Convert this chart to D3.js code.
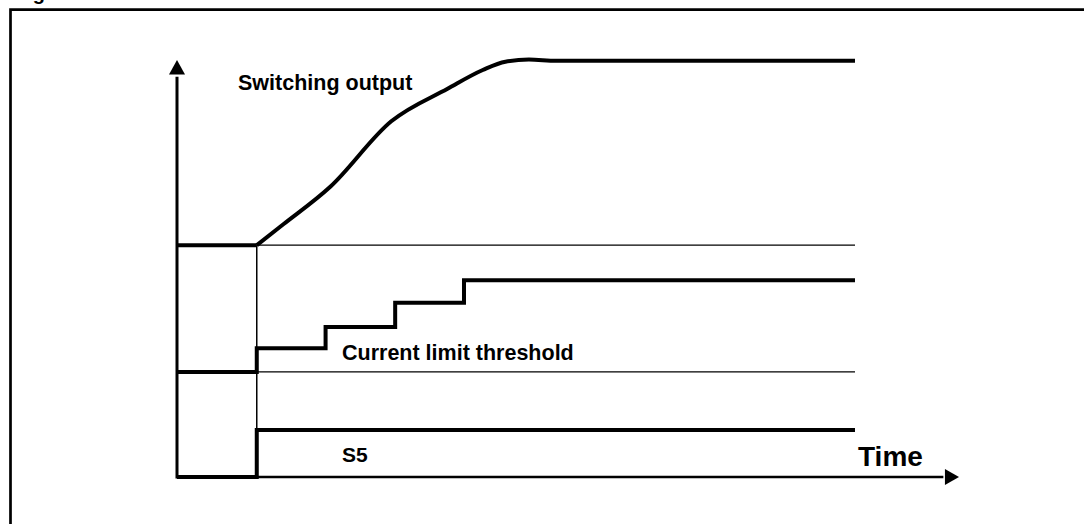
<!DOCTYPE html>
<html>
<head>
<meta charset="utf-8">
<script src="https://cdn.jsdelivr.net/npm/d3@7"></script>
<style>
  body { margin: 0; background: #fff; }
  text { font-family: "Liberation Sans", Arial, sans-serif; font-weight: bold; fill: #000; }
</style>
</head>
<body>
<div id="visual"></div>
<script>
// time axis 0..100, level axis 0..100 (arbitrary units)
const tStart = 10.2;   // switch-on instant
const tEnd = 86.7;     // end of drawn traces

// switching output: flat before switch-on, then soft-start ramp
const outPreT = [0, 10.2];
const outPreV = [55.6, 55.6];
const outT = [10.2, 13.6, 19.6, 27.4, 34.6, 39.1, 42.0, 45.0, 48.5, 86.7];
const outV = [55.6, 60.6, 69.6, 85.3, 93.1, 97.6, 99.6, 100.1, 99.8, 99.8];

// current limit threshold (steps)
const limT = [0, 10.2, 19.0, 27.9, 36.7, 86.7];
const limV = [25.2, 30.9, 36.0, 41.8, 47.2, 47.2];

// S5 signal
const s5T = [0, 10.2, 86.7];
const s5V = [0, 11.3, 11.3];

// thin reference levels
const refLevels = [55.6, 25.2];

const w = 1084, h = 524;

const xScale = d3.scaleLinear().domain([0, 100]).range([177, 959]);
const yScale = d3.scaleLinear().domain([0, 100]).range([477, 60]);

const svg = d3.select("#visual")
  .append("svg")
  .attr("width", w)
  .attr("height", h)
  .style("display", "block");

// figure frame (top and left edges only show)
svg.append("path")
  .attr("d", "M10.5,540 L10.5,9.7 L1100,9.7")
  .attr("fill", "none")
  .attr("stroke", "#000")
  .attr("stroke-width", 2.7);

// title, mostly cut off at the top
svg.append("text")
  .attr("x", 15)
  .attr("y", 0.2)
  .attr("font-size", 20)
  .text("Figure 33. Soft-start and current limit");

// thin reference lines
svg.selectAll(".ref")
  .data(refLevels)
  .enter()
  .append("line")
  .attr("class", "ref")
  .attr("x1", xScale(tStart))
  .attr("x2", xScale(tEnd))
  .attr("y1", d => yScale(d))
  .attr("y2", d => yScale(d))
  .attr("stroke", "#000")
  .attr("stroke-width", 1.3);

// thin vertical line at switch-on
svg.append("line")
  .attr("x1", xScale(tStart))
  .attr("x2", xScale(tStart))
  .attr("y1", yScale(refLevels[0]))
  .attr("y2", yScale(0))
  .attr("stroke", "#000")
  .attr("stroke-width", 1.5);

const straight = d3.line()
  .x(d => xScale(d[0]))
  .y(d => yScale(d[1]));

const smooth = d3.line()
  .x(d => xScale(d[0]))
  .y(d => yScale(d[1]))
  .curve(d3.curveMonotoneX);

const step = d3.line()
  .x(d => xScale(d[0]))
  .y(d => yScale(d[1]))
  .curve(d3.curveStepAfter);

// switching output
svg.append("path")
  .datum(outPreT.map((t, i) => [t, outPreV[i]]))
  .attr("d", straight)
  .attr("fill", "none")
  .attr("stroke", "#000")
  .attr("stroke-width", 4);

svg.append("path")
  .datum(outT.map((t, i) => [t, outV[i]]))
  .attr("d", smooth)
  .attr("fill", "none")
  .attr("stroke", "#000")
  .attr("stroke-width", 4)
  .attr("stroke-linejoin", "round");

// current limit steps
svg.append("path")
  .datum(limT.map((t, i) => [t, limV[i]]))
  .attr("d", step)
  .attr("fill", "none")
  .attr("stroke", "#000")
  .attr("stroke-width", 4);

// S5
svg.append("path")
  .datum(s5T.map((t, i) => [t, s5V[i]]))
  .attr("d", step)
  .attr("fill", "none")
  .attr("stroke", "#000")
  .attr("stroke-width", 4);

// axes with arrow heads
svg.append("line")
  .attr("x1", xScale(0)).attr("x2", xScale(0))
  .attr("y1", yScale(0) + 1.5).attr("y2", yScale(96))
  .attr("stroke", "#000").attr("stroke-width", 3);
svg.append("path")
  .attr("d", d3.line()([[xScale(0) - 8, yScale(96.5)], [xScale(0), yScale(100)], [xScale(0) + 8, yScale(96.5)]]) + "Z")
  .attr("fill", "#000");

svg.append("line")
  .attr("x1", xScale(tStart)).attr("x2", xScale(98))
  .attr("y1", yScale(0)).attr("y2", yScale(0))
  .attr("stroke", "#000").attr("stroke-width", 2.5);
svg.append("path")
  .attr("d", d3.line()([[xScale(98.2), yScale(0) - 8], [xScale(100), yScale(0)], [xScale(98.2), yScale(0) + 8]]) + "Z")
  .attr("fill", "#000");

// labels
svg.append("text")
  .attr("x", 238).attr("y", 90)
  .attr("font-size", 21.5)
  .text("Switching output");

svg.append("text")
  .attr("x", 342).attr("y", 360)
  .attr("font-size", 21.5)
  .text("Current limit threshold");

svg.append("text")
  .attr("x", 342).attr("y", 462)
  .attr("font-size", 21)
  .text("S5");

svg.append("text")
  .attr("x", 858).attr("y", 466)
  .attr("font-size", 28)
  .text("Time");
</script>
</body>
</html>
